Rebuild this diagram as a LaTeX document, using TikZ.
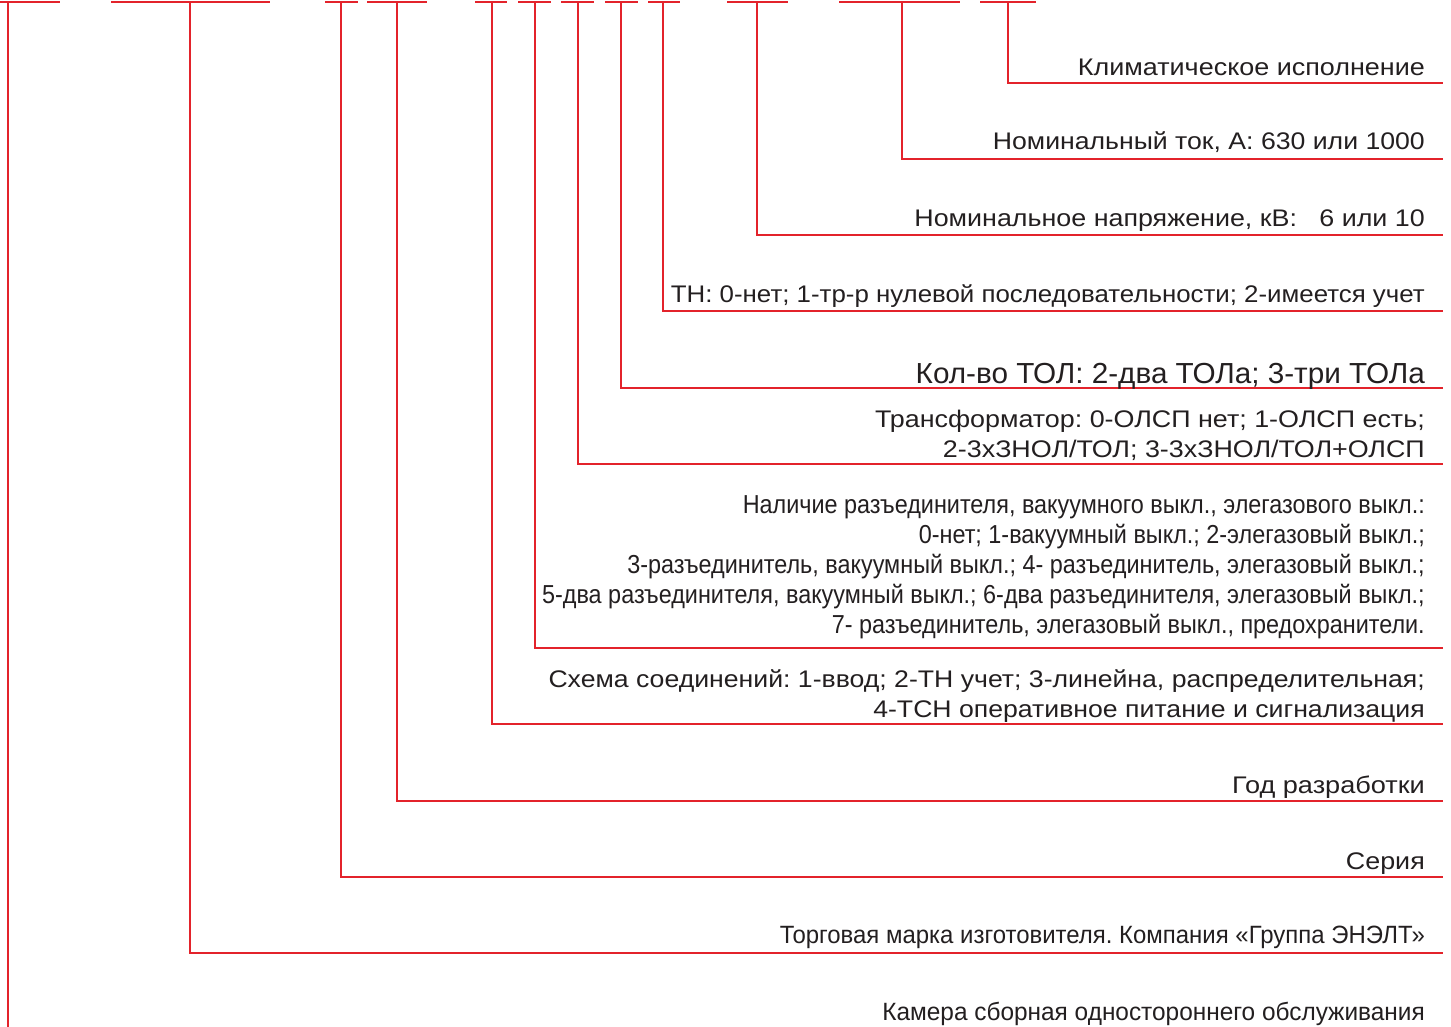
\documentclass[tikz,border=0pt]{standalone}
\usepackage{fontspec}
\setmainfont{Liberation Sans}
\frenchspacing
\definecolor{lred}{HTML}{E3232B}
\definecolor{ltxt}{HTML}{231F20}
\newcommand{\sx}[2]{\scalebox{#1}[1]{\begin{tabular}[b]{@{}r@{}}#2\end{tabular}}}
\begin{document}
\begin{tikzpicture}[x=1pt,y=-1pt,
  rl/.style={draw=lred,line width=2pt},
  lbl/.style={anchor=base east,inner sep=0pt,text=ltxt,font=\fontsize{24}{30}\selectfont\frenchspacing}]
\useasboundingbox (0,0) rectangle (1451,1027);
% top bars
\foreach \a/\b in {0/60,111/270,325/358,367/427,475/507,518/551,561/594,605/638,648/680,727/788,839/960,980/1036}
  \draw[rl] (\a,2) -- (\b,2);
% stems and legs
\foreach \n/\x/\y in {a/1008/83,b/902/159,c/757/235,d/663/311,e/621/388,f/578/464,g/535/648,h/492/724,i/397/801,j/341/877,k/190/953}{
  \coordinate (s\n) at (\x,2);
  \coordinate (e\n) at (1443,\y);
  \draw[rl] (s\n) |- (e\n);
}
\coordinate (sl) at (8,2);
\coordinate (el) at (8,1027);
\draw[rl] (sl) -- (el);
% labels
\node[lbl] (ta) at (1425,76) {\sx{1.123}{Климатическое исполнение}};
\node[lbl] (tb) at (1425,150) {\sx{1.11}{Номинальный ток, А: 630 или 1000}};
\node[lbl] (tc) at (1425,226) {\sx{1.119}{Номинальное напряжение, кВ: \ \ 6 или 10}};
\node[lbl] (td) at (1425,302) {\sx{1.077}{ТН: 0-нет; 1-тр-р нулевой последовательности; 2-имеется учет}};
\node[lbl,font=\fontsize{29}{30}\selectfont\frenchspacing] (te) at (1425,383) {\sx{1.024}{Кол-во ТОЛ: 2-два ТОЛа; 3-три ТОЛа}};
\node[lbl] (tf) at (1425,457) {\sx{1.12}{Трансформатор: 0-ОЛСП нет; 1-ОЛСП есть;\\2-3хЗНОЛ/ТОЛ; 3-3хЗНОЛ/ТОЛ+ОЛСП}};
\node[lbl,font=\fontsize{26}{30}\selectfont\frenchspacing] (tg) at (1425,633) {\sx{0.90}{Наличие разъединителя, вакуумного выкл., элегазового выкл.:\\0-нет; 1-вакуумный выкл.; 2-элегазовый выкл.;\\3-разъединитель, вакуумный выкл.; 4- разъединитель, элегазовый выкл.;\\5-два разъединителя, вакуумный выкл.; 6-два разъединителя, элегазовый выкл.;\\7- разъединитель, элегазовый выкл., предохранители.}};
\node[lbl] (th) at (1425,717) {\sx{1.11}{Схема соединений: 1-ввод; 2-ТН учет; 3-линейна, распределительная;\\4-ТСН оперативное питание и сигнализация}};
\node[lbl] (ti) at (1425,793) {\sx{1.13}{Год разработки}};
\node[lbl] (tj) at (1425,869) {\sx{1.12}{Серия}};
\node[lbl,font=\fontsize{25}{30}\selectfont\frenchspacing] (tk) at (1425,943) {\sx{0.958}{Торговая марка изготовителя. Компания «Группа ЭНЭЛТ»}};
\node[lbl,font=\fontsize{25}{30}\selectfont\frenchspacing] (tl) at (1425,1020) {\sx{0.976}{Камера сборная одностороннего обслуживания}};
\end{tikzpicture}
\end{document}
